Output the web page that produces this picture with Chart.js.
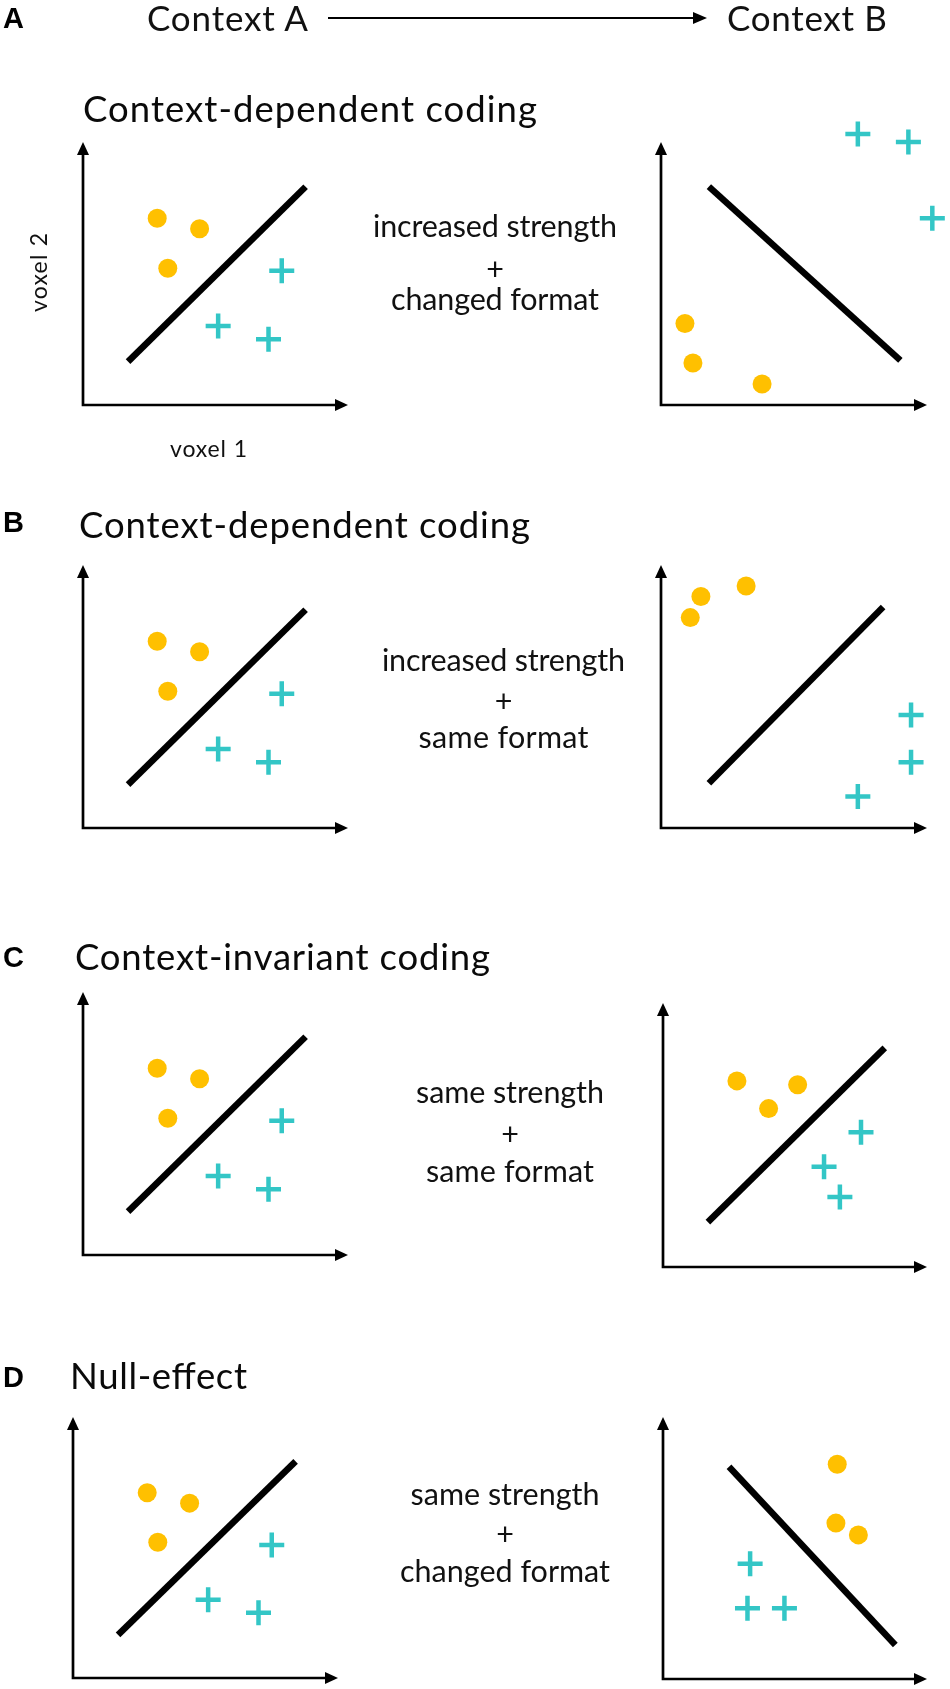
<!DOCTYPE html>
<html>
<head>
<meta charset="utf-8">
<title>Context-dependent coding</title>
<script src="https://cdn.jsdelivr.net/npm/chart.js@4"></script>
<style>
  html, body { margin: 0; padding: 0; background: #fff; overflow: hidden; }
  #page { position: relative; width: 950px; height: 1689px; }
  #page canvas { position: absolute; }
  #labels { position: absolute; left: 0; top: 0; pointer-events: none; }
</style>
</head>
<body>
<div id="page">
  <svg id="labels" width="950" height="1689" xmlns="http://www.w3.org/2000/svg"></svg>
</div>
<script>
// context A: the same pattern in all four rows (axis units 0..10, 10 = arrow tip)
const baseCircleX = [2.8, 4.4, 3.2];
const baseCircleY = [7.1, 6.7, 5.2];
const baseCrossX = [7.5, 5.1, 7.0];
const baseCrossY = [5.1, 3.0, 2.5];
const baseLineX = [1.7, 8.4];
const baseLineY = [1.65, 8.3];

// context B, row A: increased strength + changed format
const aCircleX = [0.9, 1.2, 3.8];
const aCircleY = [3.1, 1.6, 0.8];
const aCrossX = [7.4, 9.3, 10.2];
const aCrossY = [10.3, 10.0, 7.1];
const aLineX = [1.8, 9.0];
const aLineY = [8.3, 1.7];

// context B, row B: increased strength + same format
const bCircleX = [1.1, 1.5, 3.2];
const bCircleY = [8.0, 8.8, 9.2];
const bCrossX = [9.4, 9.4, 7.4];
const bCrossY = [4.3, 2.5, 1.2];
const bLineX = [1.8, 8.35];
const bLineY = [1.7, 8.4];

// context B, row C: same strength + same format
const cCircleX = [2.8, 4.0, 5.1];
const cCircleY = [7.05, 6.0, 6.9];
const cCrossX = [7.5, 6.1, 6.7];
const cCrossY = [5.1, 3.8, 2.65];
const cLineX = [1.7, 8.4];
const cLineY = [1.7, 8.3];

// context B, row D: same strength + changed format
const dCircleX = [6.6, 6.55, 7.4];
const dCircleY = [8.2, 5.95, 5.5];
const dCrossX = [3.3, 3.2, 4.6];
const dCrossY = [4.4, 2.7, 2.7];
const dLineX = [2.5, 8.8];
const dLineY = [8.1, 1.3];

const panelLetters = ['A', 'B', 'C', 'D'];
const panelTitles = ['Context-dependent coding', 'Context-dependent coding', 'Context-invariant coding', 'Null-effect'];
const strengthLabels = ['increased strength', 'increased strength', 'same strength', 'same strength'];
const formatLabels = ['changed format', 'same format', 'same format', 'changed format'];
const contextLabels = ['Context A', 'Context B'];
const axisLabels = ['voxel 1', 'voxel 2'];

const ORANGE = '#FFC000';
const CYAN = '#33C6C6';
const PAD = 40;

const zip = (xs, ys) => xs.map((x, i) => ({ x: x, y: ys[i] }));

// draws the two arrow axes along the chart area edges
const arrowAxes = {
  id: 'arrowAxes',
  beforeDatasetsDraw(chart) {
    const { ctx, chartArea: a } = chart;
    const head = 13, half = 6;
    ctx.save();
    ctx.strokeStyle = '#000';
    ctx.fillStyle = '#000';
    ctx.lineWidth = 2.7;
    ctx.lineJoin = 'miter';
    ctx.beginPath();
    ctx.moveTo(a.left, a.top + head - 1);
    ctx.lineTo(a.left, a.bottom);
    ctx.lineTo(a.right - head + 1, a.bottom);
    ctx.stroke();
    ctx.beginPath();
    ctx.moveTo(a.left, a.top);
    ctx.lineTo(a.left - half, a.top + head);
    ctx.lineTo(a.left + half, a.top + head);
    ctx.closePath();
    ctx.fill();
    ctx.beginPath();
    ctx.moveTo(a.right, a.bottom);
    ctx.lineTo(a.right - head, a.bottom - half);
    ctx.lineTo(a.right - head, a.bottom + half);
    ctx.closePath();
    ctx.fill();
    ctx.restore();
  }
};

// ox/oy = axis origin, tx/ty = arrow tips (page pixels)
const plots = [
  { ox: 83, oy: 405, tx: 348, ty: 142, cx: baseCircleX, cy: baseCircleY, px: baseCrossX, py: baseCrossY, lx: baseLineX, ly: baseLineY },
  { ox: 661, oy: 405, tx: 927, ty: 142, cx: aCircleX, cy: aCircleY, px: aCrossX, py: aCrossY, lx: aLineX, ly: aLineY },
  { ox: 83, oy: 828, tx: 348, ty: 565, cx: baseCircleX, cy: baseCircleY, px: baseCrossX, py: baseCrossY, lx: baseLineX, ly: baseLineY },
  { ox: 661, oy: 828, tx: 927, ty: 565, cx: bCircleX, cy: bCircleY, px: bCrossX, py: bCrossY, lx: bLineX, ly: bLineY },
  { ox: 83, oy: 1255, tx: 348, ty: 992, cx: baseCircleX, cy: baseCircleY, px: baseCrossX, py: baseCrossY, lx: baseLineX, ly: baseLineY },
  { ox: 663, oy: 1267, tx: 927, ty: 1003, cx: cCircleX, cy: cCircleY, px: cCrossX, py: cCrossY, lx: cLineX, ly: cLineY },
  { ox: 73, oy: 1678, tx: 338, ty: 1417, cx: baseCircleX, cy: baseCircleY, px: baseCrossX, py: baseCrossY, lx: baseLineX, ly: baseLineY },
  { ox: 663, oy: 1679, tx: 927, ty: 1417, cx: dCircleX, cy: dCircleY, px: dCrossX, py: dCrossY, lx: dLineX, ly: dLineY }
];

const page = document.getElementById('page');
plots.forEach(p => {
  const canvas = document.createElement('canvas');
  const w = p.tx - p.ox + 2 * PAD;
  const h = p.oy - p.ty + 2 * PAD;
  canvas.width = w;
  canvas.height = h;
  canvas.style.left = (p.ox - PAD) + 'px';
  canvas.style.top = (p.ty - PAD) + 'px';
  canvas.style.width = w + 'px';
  canvas.style.height = h + 'px';
  page.insertBefore(canvas, page.firstChild);

  new Chart(canvas, {
    type: 'scatter',
    data: {
      datasets: [
        {
          data: zip(p.px, p.py),
          pointStyle: 'cross',
          pointRadius: 12.5,
          borderColor: CYAN,
          borderWidth: 4.5,
          clip: false
        },
        {
          data: zip(p.cx, p.cy),
          pointStyle: 'circle',
          pointRadius: 9.5,
          backgroundColor: ORANGE,
          borderWidth: 0,
          clip: false
        },
        {
          type: 'line',
          data: zip(p.lx, p.ly),
          borderColor: '#000',
          borderWidth: 6.5,
          borderCapStyle: 'butt',
          pointRadius: 0,
          fill: false,
          clip: false
        }
      ]
    },
    options: {
      responsive: false,
      animation: false,
      events: [],
      layout: { padding: PAD },
      scales: {
        x: { type: 'linear', min: 0, max: 10, display: false },
        y: { type: 'linear', min: 0, max: 10, display: false }
      },
      plugins: {
        legend: { display: false },
        tooltip: { enabled: false }
      }
    },
    plugins: [arrowAxes]
  });
});

// text labels
const NS = 'http://www.w3.org/2000/svg';
const svg = document.getElementById('labels');
function addText(str, x, y, o) {
  const t = document.createElementNS(NS, 'text');
  t.textContent = str;
  t.setAttribute('x', x);
  t.setAttribute('y', y);
  t.setAttribute('font-family', o.family || 'Lato, "Open Sans", sans-serif');
  t.setAttribute('font-size', o.size);
  t.setAttribute('fill', o.color || '#111');
  if (o.bold) t.setAttribute('font-weight', 'bold');
  if (o.anchor) t.setAttribute('text-anchor', o.anchor);
  if (o.len) {
    t.setAttribute('textLength', o.len);
    t.setAttribute('lengthAdjust', 'spacing');
  }
  if (o.rotate) t.setAttribute('transform', 'rotate(' + o.rotate + ' ' + x + ' ' + y + ')');
  svg.appendChild(t);
}

// header: Context A ----> Context B
addText(contextLabels[0], 147, 31, { size: 35, len: 161 });
addText(contextLabels[1], 727, 31, { size: 35, len: 160 });
const arrowLine = document.createElementNS(NS, 'line');
arrowLine.setAttribute('x1', 328); arrowLine.setAttribute('y1', 18);
arrowLine.setAttribute('x2', 695); arrowLine.setAttribute('y2', 18);
arrowLine.setAttribute('stroke', '#000'); arrowLine.setAttribute('stroke-width', 2.2);
svg.appendChild(arrowLine);
const arrowHead = document.createElementNS(NS, 'polygon');
arrowHead.setAttribute('points', '693,12 707,18 693,24');
arrowHead.setAttribute('fill', '#000');
svg.appendChild(arrowHead);

// axis labels (only on the first plot)
addText(axisLabels[0], 208.5, 457, { size: 23, anchor: 'middle', len: 77 });
addText(axisLabels[1], 47, 272.5, { size: 23, anchor: 'middle', len: 79, rotate: -90 });

const rows = [
  { letterY: 28, titleX: 83, titleY: 122, titleW: 454, midX: 495, y1: 237, yPlus: 280, y2: 310, w1: 244, w2: 208 },
  { letterY: 532, titleX: 79, titleY: 538, titleW: 451, midX: 503.5, y1: 671, yPlus: 712, y2: 748, w1: 243, w2: 170 },
  { letterY: 967, titleX: 75, titleY: 970, titleW: 415, midX: 510, y1: 1103, yPlus: 1145, y2: 1182, w1: 188, w2: 168 },
  { letterY: 1387, titleX: 70, titleY: 1389, titleW: 177, midX: 505, y1: 1505, yPlus: 1545, y2: 1582, w1: 189, w2: 210 }
];

rows.forEach((r, i) => {
  addText(panelLetters[i], 3, r.letterY, { size: 29, bold: true, color: '#000', family: '"Liberation Sans", Arial, sans-serif' });
  addText(panelTitles[i], r.titleX, r.titleY, { size: 36.5, len: r.titleW, color: '#0a0a0a' });
  addText(strengthLabels[i], r.midX, r.y1, { size: 30.5, anchor: 'middle', len: r.w1 });
  addText('+', r.midX, r.yPlus, { size: 30.5, anchor: 'middle' });
  addText(formatLabels[i], r.midX, r.y2, { size: 30.5, anchor: 'middle', len: r.w2 });
});
</script>
</body>
</html>
